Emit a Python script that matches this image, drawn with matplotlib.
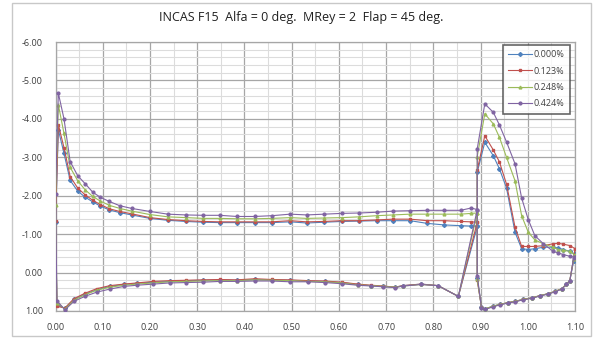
import numpy as np
import matplotlib
matplotlib.use("Agg")
import matplotlib.pyplot as plt
from matplotlib.ticker import MultipleLocator, FixedLocator
from matplotlib.patches import Rectangle

# ---------------- data ----------------
labels = ["0.000%", "0.123%", "0.248%", "0.424%"]
colors = ["#4F81BD", "#C0504D", "#9BBB59", "#8064A2"]
markers = ["D", "s", "^", "o"]

# main element, upper surface (leading edge -> trailing edge)
x_main_up = [0.000, 0.006, 0.018, 0.031, 0.047, 0.063, 0.079, 0.095, 0.114, 0.136,
             0.161, 0.200, 0.238, 0.276, 0.313, 0.348, 0.384, 0.422, 0.458, 0.497,
             0.532, 0.569, 0.606, 0.643, 0.680, 0.715, 0.751, 0.787, 0.823, 0.858,
             0.880, 0.893]
cp_main_up_0 = [-1.31, -3.72, -3.10, -2.40, -2.12, -1.96, -1.84, -1.73, -1.63, -1.56,
                -1.50, -1.41, -1.36, -1.33, -1.31, -1.30, -1.30, -1.30, -1.30, -1.32,
                -1.29, -1.31, -1.33, -1.34, -1.35, -1.35, -1.35, -1.28, -1.24, -1.22,
                -1.21, -1.20]
cp_main_up_1 = [-1.35, -3.85, -3.25, -2.50, -2.20, -2.02, -1.88, -1.77, -1.66, -1.59,
                -1.53, -1.43, -1.38, -1.35, -1.33, -1.32, -1.32, -1.32, -1.32, -1.35,
                -1.32, -1.33, -1.35, -1.35, -1.37, -1.39, -1.39, -1.35, -1.35, -1.33,
                -1.32, -1.31]
cp_main_up_2 = [-1.77, -4.37, -3.62, -2.74, -2.39, -2.15, -1.98, -1.86, -1.75, -1.67,
                -1.60, -1.51, -1.45, -1.43, -1.41, -1.41, -1.40, -1.40, -1.41, -1.43,
                -1.41, -1.42, -1.43, -1.45, -1.48, -1.50, -1.52, -1.52, -1.52, -1.52,
                -1.54, -1.55]
cp_main_up_3 = [-2.05, -4.67, -4.00, -2.89, -2.52, -2.31, -2.09, -1.96, -1.85, -1.74,
                -1.67, -1.59, -1.52, -1.50, -1.49, -1.49, -1.46, -1.46, -1.48, -1.52,
                -1.50, -1.52, -1.54, -1.55, -1.57, -1.60, -1.61, -1.62, -1.62, -1.62,
                -1.68, -1.64]

# main element, lower surface (leading edge -> trailing edge)
x_main_lo = [0.003, 0.020, 0.039, 0.062, 0.087, 0.115, 0.145, 0.172, 0.207, 0.242,
             0.277, 0.313, 0.348, 0.384, 0.422, 0.458, 0.497, 0.535, 0.570, 0.606,
             0.640, 0.669, 0.694, 0.719, 0.736, 0.774, 0.810, 0.853]
cp_main_lo_0 = [0.84, 0.93, 0.70, 0.56, 0.45, 0.36, 0.31, 0.28, 0.25, 0.23,
                0.21, 0.20, 0.19, 0.20, 0.18, 0.19, 0.20, 0.22, 0.23, 0.26,
                0.31, 0.34, 0.36, 0.38, 0.34, 0.30, 0.34, 0.62]
cp_main_lo_1 = [0.88, 0.92, 0.68, 0.54, 0.42, 0.34, 0.30, 0.27, 0.23, 0.21,
                0.20, 0.19, 0.18, 0.19, 0.16, 0.18, 0.19, 0.21, 0.22, 0.25,
                0.30, 0.33, 0.35, 0.38, 0.34, 0.30, 0.34, 0.62]
cp_main_lo_2 = [0.78, 0.95, 0.72, 0.58, 0.46, 0.38, 0.33, 0.30, 0.27, 0.24,
                0.23, 0.22, 0.21, 0.21, 0.19, 0.20, 0.21, 0.23, 0.24, 0.27,
                0.32, 0.34, 0.36, 0.38, 0.35, 0.31, 0.34, 0.62]
cp_main_lo_3 = [0.73, 0.97, 0.75, 0.62, 0.51, 0.43, 0.36, 0.33, 0.30, 0.27,
                0.26, 0.25, 0.23, 0.23, 0.22, 0.22, 0.24, 0.24, 0.26, 0.29,
                0.33, 0.35, 0.37, 0.39, 0.35, 0.31, 0.34, 0.62]

# flap, upper surface (leading edge -> trailing edge)
x_flap_up = [0.893, 0.909, 0.927, 0.940, 0.955, 0.973, 0.987, 1.001, 1.015, 1.033,
             1.054, 1.065, 1.075, 1.090, 1.100]
cp_flap_up_0 = [-2.61, -3.39, -3.04, -2.70, -2.20, -1.05, -0.62, -0.60, -0.62, -0.66,
                -0.66, -0.64, -0.60, -0.55, -0.48]
cp_flap_up_1 = [-2.67, -3.56, -3.19, -2.88, -2.30, -1.18, -0.68, -0.68, -0.68, -0.70,
                -0.75, -0.76, -0.74, -0.70, -0.62]
cp_flap_up_2 = [-3.02, -4.13, -3.87, -3.52, -3.00, -2.39, -1.48, -1.05, -0.85, -0.75,
                -0.66, -0.60, -0.58, -0.55, -0.45]
cp_flap_up_3 = [-3.22, -4.39, -4.17, -3.84, -3.40, -2.83, -1.94, -1.38, -0.96, -0.75,
                -0.55, -0.51, -0.47, -0.42, -0.40]

# flap, lower surface (leading edge -> trailing edge)
x_flap_lo = [0.893, 0.902, 0.909, 0.927, 0.941, 0.959, 0.973, 0.990, 1.008, 1.026,
             1.043, 1.058, 1.072, 1.082, 1.089, 1.097]
cp_flap_lo_0 = [0.15, 0.90, 0.95, 0.87, 0.83, 0.78, 0.75, 0.70, 0.66, 0.60,
                0.55, 0.49, 0.42, 0.30, 0.21, -0.30]
cp_flap_lo_1 = [0.20, 0.90, 0.95, 0.88, 0.83, 0.78, 0.75, 0.70, 0.66, 0.60,
                0.55, 0.49, 0.42, 0.30, 0.21, -0.35]
cp_flap_lo_2 = [0.18, 0.90, 0.95, 0.87, 0.83, 0.78, 0.75, 0.70, 0.66, 0.60,
                0.55, 0.49, 0.42, 0.30, 0.21, -0.35]
cp_flap_lo_3 = [0.08, 0.92, 0.96, 0.89, 0.84, 0.79, 0.76, 0.71, 0.67, 0.61,
                0.56, 0.50, 0.43, 0.31, 0.22, -0.38]

cp_main_up = [cp_main_up_0, cp_main_up_1, cp_main_up_2, cp_main_up_3]
cp_main_lo = [cp_main_lo_0, cp_main_lo_1, cp_main_lo_2, cp_main_lo_3]
cp_flap_up = [cp_flap_up_0, cp_flap_up_1, cp_flap_up_2, cp_flap_up_3]
cp_flap_lo = [cp_flap_lo_0, cp_flap_lo_1, cp_flap_lo_2, cp_flap_lo_3]

x_ticks = [0.0, 0.1, 0.2, 0.3, 0.4, 0.5, 0.6, 0.7, 0.8, 0.9, 1.0, 1.1]
y_ticks = [-6, -5, -4, -3, -2, -1, 0, 1]
title = "INCAS F15  Alfa = 0 deg.  MRey = 2  Flap = 45 deg."

# ---------------- figure ----------------
W, H = 595, 339
fig = plt.figure(figsize=(W / 100, H / 100), dpi=100)
fig.patch.set_facecolor("white")
fig.patches.append(Rectangle((12 / W, 1 - 336 / H), (591 - 12) / W, (336 - 3) / H,
                             transform=fig.transFigure, fill=False,
                             edgecolor="#C8C8C8", linewidth=1.0))

ax = fig.add_axes([55.5 / W, 1 - 311 / H, (575 - 55.5) / W, (311 - 42) / H])
font = ["Open Sans", "DejaVu Sans"]

for i in range(4):
    xs = (x_flap_up[::-1] + x_main_up[::-1] + x_main_lo + [x_main_up[-1]]
          + x_flap_lo + [x_flap_up[-1]])
    ys = (cp_flap_up[i][::-1] + cp_main_up[i][::-1] + cp_main_lo[i] + [cp_main_up[i][-1]]
          + cp_flap_lo[i] + [cp_flap_up[i][-1]])
    ax.plot(xs, ys, color=colors[i], lw=0.8, marker=markers[i], ms=2.0,
            mec=colors[i], mfc=colors[i], label=labels[i], zorder=3 + i)

ax.set_xlim(0, 1.1)
ax.set_ylim(1, -6)
ax.xaxis.set_major_locator(FixedLocator(x_ticks))
ax.yaxis.set_major_locator(FixedLocator(y_ticks))
ax.xaxis.set_minor_locator(MultipleLocator(0.05))
ax.yaxis.set_minor_locator(MultipleLocator(0.2))
ax.set_xticklabels([f"{v:.2f}" for v in x_ticks])
ax.set_yticklabels([f"{v:.2f}" for v in y_ticks])
ax.grid(which="major", color="#A6A6A6", lw=0.9)
ax.grid(which="minor", color="#DCDCDC", lw=0.8)
ax.set_axisbelow(True)
for s in ax.spines.values():
    s.set_color("#A6A6A6")
    s.set_linewidth(0.9)
ax.tick_params(which="both", length=0, pad=9, labelsize=6.6, colors="#404040")
for lab in ax.get_xticklabels() + ax.get_yticklabels():
    lab.set_family(font)

fig.text(0.507, 1 - 18 / H, title, ha="center", va="center", fontsize=9,
         family=font, color="#202020")

leg = ax.legend(loc="upper right", bbox_to_anchor=(570 / W, 1 - 45 / H),
                bbox_transform=fig.transFigure, borderaxespad=0, frameon=True,
                fancybox=False, prop={"family": font, "size": 6.5},
                handlelength=2.6, handletextpad=0.2, labelspacing=0.8,
                borderpad=0.6, markerscale=1.0)
leg.get_frame().set_edgecolor("#404040")
leg.get_frame().set_linewidth(1.2)
for t in leg.get_texts():
    t.set_color("#404040")

fig.savefig("out.png", dpi=100, facecolor="white")
